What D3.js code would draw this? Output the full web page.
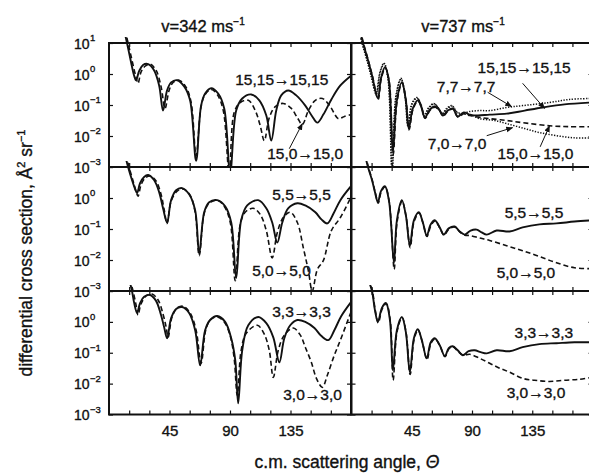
<!DOCTYPE html>
<html>
<head>
<meta charset="utf-8">
<script src="https://cdn.jsdelivr.net/npm/d3@7"></script>
<style>
body { margin: 0; background: #fff; }
svg { display: block; font-family: "Liberation Sans", Arial, Helvetica, sans-serif; }
svg text { stroke: #111; stroke-width: 0.35px; }
</style>
</head>
<body>
<svg id="chart" width="589" height="475"></svg>
<script>
// values: [theta (deg), log10 of dsigma/dOmega (A^2 sr^-1)]
var velocities = ["v=342 ms", "v=737 ms"];
var thetaTicks = [45, 90, 135];
var minorTicks = [15, 30, 45, 60, 75, 90, 105, 120, 135, 150, 165];
var decadeTicks = [1, 0, -1, -2, -3];

// 342 m/s, top row
var slow15_15 = [[11.2,1.42],[13.4,1.0],[16.4,0.38],[18.6,-0.04],[20.1,-0.2],[22.4,0.09],[25.3,0.29],[29.1,0.32],[33.5,0.12],[37.3,-0.37],[40.2,-1.18],[43.2,-0.53],[46.2,-0.27],[50.7,-0.2],[55.9,-0.4],[60.3,-0.85],[64.8,-2.8],[68.5,-1.02],[71.5,-0.63],[76,-0.46],[81.2,-0.63],[85.7,-1.11],[90.1,-3.19],[94.6,-1.18],[99.1,-0.79],[105.8,-0.66],[111.8,-0.85],[117,-1.34],[120.7,-2.15],[124.4,-1.18],[128.1,-0.69],[133.4,-0.53],[139.3,-0.69],[146,-1.02],[151.2,-1.37],[155,-1.57],[159.4,-1.31],[165.4,-0.82],[172.1,-0.37],[179.6,-0.07]];
var slow15_0 = [[11.9,1.42],[14.2,1.0],[17.9,0.29],[20.1,-0.1],[21.6,-0.3],[23.8,0.06],[26.8,0.25],[30.5,0.32],[35,0.12],[38.7,-0.4],[41.7,-1.11],[44.7,-0.53],[47.7,-0.27],[52.2,-0.2],[57.4,-0.43],[61.1,-0.92],[64.8,-2.64],[68.5,-1.05],[71.5,-0.66],[76,-0.5],[80.5,-0.66],[85,-1.18],[89.4,-3.19],[93.1,-1.24],[97.6,-0.92],[103.6,-0.85],[108.8,-1.18],[112.5,-1.67],[115.5,-2.15],[119.2,-1.41],[123.7,-1.05],[129.6,-0.95],[135.6,-1.11],[140.1,-1.41],[143.8,-1.63],[148.3,-1.18],[153.5,-0.85],[158.7,-0.79],[164.6,-1.05],[170.6,-1.44],[175.1,-1.37],[180,-1.31]];
// 342 m/s, middle row
var slow5_5 = [[11.9,1.39],[14.2,1.0],[17.1,0.58],[19.4,0.29],[20.9,0.16],[23.1,0.48],[26.1,0.68],[29.1,0.74],[33.5,0.58],[37.3,0.19],[40.2,-0.33],[43.2,-0.79],[46.2,-0.07],[49.9,0.25],[54.4,0.32],[59.6,0.12],[64.1,-0.4],[67.1,-1.8],[70.8,-0.46],[74.5,-0.14],[80.5,-0.07],[86.4,-0.27],[90.9,-0.79],[94.6,-2.58],[98.3,-0.72],[102.8,-0.24],[111,-0.07],[117,-0.33],[121.4,-0.79],[125.2,-1.44],[128.9,-0.79],[133.4,-0.33],[140.1,-0.17],[146,-0.24],[153.5,-0.46],[158,-0.69],[162.4,-0.82],[167,-0.5],[172.1,-0.07],[180,0.38]];
var slow5_0 = [[12.7,1.39],[14.9,1.0],[17.9,0.55],[20.1,0.22],[21.6,0.06],[23.8,0.42],[26.8,0.64],[30.5,0.71],[35,0.55],[38.7,0.12],[41,-0.37],[43.2,-0.82],[46.2,-0.1],[50.7,0.22],[55.1,0.29],[60.3,0.09],[64.1,-0.46],[67.1,-1.86],[70.8,-0.5],[74.5,-0.17],[80.5,-0.07],[85.7,-0.27],[90.2,-0.79],[93.9,-2.67],[97.6,-0.85],[101.3,-0.46],[107.3,-0.33],[112.5,-0.53],[117,-1.05],[121.4,-1.93],[125.2,-1.11],[129.6,-0.63],[134.8,-0.46],[140.1,-0.79],[144.5,-1.6],[148.3,-2.35],[151.2,-3.0],[155,-2.3],[159.4,-2.02],[165.4,-1.05],[172.1,-0.63],[180,0.03]];
// 342 m/s, bottom row
var slow3_3 = [[14.9,1.39],[17.1,1.0],[18.6,0.64],[20.9,0.29],[23.1,0.61],[26.1,0.81],[30.5,0.87],[35,0.68],[38.7,0.22],[41,-0.17],[43.2,-0.53],[46.2,0.12],[49.9,0.42],[54.4,0.48],[59.6,0.29],[64.1,-0.27],[67.8,-1.41],[71.5,-0.27],[75.2,0.06],[80.5,0.19],[86.4,0.0],[90.9,-0.53],[93.9,-1.24],[96.1,-2.64],[99.1,-0.92],[103.6,-0.11],[111,0.16],[117,-0.04],[122.2,-0.5],[126.7,-1.31],[130.4,-0.53],[134.8,-0.11],[140.1,0.06],[146,0.0],[152.8,-0.2],[158,-0.46],[163.1,-0.59],[167.6,-0.27],[172.8,0.19],[180,0.64]];
var slow3_0 = [[15.6,1.39],[17.9,1.0],[20.1,0.55],[21.6,0.22],[23.8,0.58],[27.6,0.84],[32,0.9],[36.5,0.71],[40.2,0.25],[42.5,-0.17],[44,-0.5],[46.9,0.16],[50.7,0.45],[55.1,0.51],[60.3,0.29],[64.8,-0.27],[68.5,-1.34],[72.3,-0.2],[76,0.09],[80.5,0.16],[85.7,0.0],[90.2,-0.46],[93.1,-1.18],[95.4,-2.38],[98.3,-0.92],[102.1,-0.37],[110.3,-0.11],[115.5,-0.4],[119.2,-0.92],[122.2,-1.8],[125.9,-0.92],[130.4,-0.43],[137.1,-0.2],[142.3,-0.43],[146,-0.82],[150.5,-1.31],[154.3,-1.83],[158.7,-2.12],[162.4,-1.73],[167.6,-1.08],[172.1,-0.59],[180,0.32]];

// 737 m/s, top row
var fast15_15 = [[6.3,1.42],[8.6,1.0],[12.3,0.45],[15.3,-0.04],[19.7,-0.79],[22,-0.14],[25,0.22],[27.9,-0.2],[30.9,-2.48],[33.9,-0.85],[37.6,-0.27],[40.6,-0.85],[42.8,-1.76],[45.8,-1.11],[49.5,-0.85],[52.5,-1.11],[54.8,-1.41],[58.5,-1.15],[62.2,-1.05],[65.9,-1.18],[68.2,-1.34],[71.9,-1.18],[75.6,-1.11],[79.3,-1.37],[83.8,-1.24],[88.3,-1.31],[94.2,-1.34],[103.2,-1.31],[115.9,-1.28],[129.3,-1.18],[142.7,-1.08],[159.1,-0.98],[179.2,-0.92]];
var fast15_0 = [[6.6,1.42],[8.9,1.0],[12.6,0.43],[15.6,-0.06],[19.9,-0.82],[22.2,-0.16],[25.2,0.2],[28.1,-0.22],[31.1,-2.6],[34.1,-0.87],[37.8,-0.29],[40.8,-0.87],[43,-1.8],[46,-1.13],[49.7,-0.87],[52.7,-1.13],[55,-1.43],[58.7,-1.17],[62.4,-1.07],[66.1,-1.2],[68.4,-1.36],[72.1,-1.2],[75.8,-1.13],[79.5,-1.39],[83.8,-1.28],[88.3,-1.34],[95.7,-1.4],[103.2,-1.44],[115.9,-1.5],[127.8,-1.57],[147.9,-1.67],[162.8,-1.7],[179.2,-1.7]];
var fast7_7 = [[5.6,1.42],[7.8,1.0],[11.5,0.45],[14.5,-0.04],[18.3,-0.63],[21.2,0.06],[24.2,0.35],[27.2,-0.14],[30.2,-3.03],[33.2,-0.69],[36.9,-0.14],[39.9,-0.69],[42.1,-1.67],[45.1,-0.95],[48.8,-0.76],[51.8,-0.98],[54,-1.34],[57.7,-1.08],[61.5,-0.95],[65.2,-1.11],[67.4,-1.28],[71.1,-1.11],[74.9,-1.02],[78.6,-1.21],[82.3,-1.28],[88.3,-1.21],[95.7,-1.18],[103.2,-1.18],[115.9,-1.08],[127.8,-1.02],[147.9,-0.92],[162.8,-0.82],[179.2,-0.79]];
var fast7_0 = [[5.9,1.42],[8.1,1.0],[11.8,0.43],[14.8,-0.06],[18.6,-0.66],[21.4,0.04],[24.4,0.33],[27.4,-0.16],[30.4,-3.1],[33.4,-0.71],[37.1,-0.16],[40.1,-0.71],[42.3,-1.7],[45.3,-0.97],[49,-0.78],[52,-1.0],[54.2,-1.36],[57.9,-1.1],[61.7,-0.97],[65.4,-1.13],[67.6,-1.3],[71.3,-1.13],[75.1,-1.04],[78.8,-1.25],[82.5,-1.3],[88.3,-1.3],[95.7,-1.44],[107,-1.5],[115.9,-1.6],[129.3,-1.76],[140.4,-1.89],[153.1,-1.99],[166.5,-2.06],[179.2,-2.06]];
// 737 m/s, middle row
var fast5_5 = [[10.1,1.39],[12.3,1.0],[15.3,0.58],[17.5,0.19],[19.7,-0.14],[22,0.22],[25,0.38],[27.9,-0.07],[29.4,-0.72],[31.7,-2.09],[33.9,-0.72],[37.6,-0.07],[40.6,-0.56],[43.6,-1.54],[46.6,-0.72],[50.3,-0.46],[53.3,-0.79],[56.2,-1.21],[59.2,-0.85],[62.2,-0.72],[65.9,-0.95],[68.9,-1.18],[72.6,-0.98],[77.1,-0.92],[80.8,-1.08],[84.6,-1.18],[89,-1.05],[93.5,-1.02],[97.2,-1.11],[101,-1.18],[108.4,-1.05],[118.1,-1.08],[127.8,-0.95],[140.4,-0.85],[153.1,-0.82],[166.5,-0.76],[179.2,-0.72]];
var fast5_0 = [[10.4,1.39],[12.6,1.0],[15.6,0.56],[17.8,0.17],[20,-0.17],[22.2,0.2],[25.2,0.36],[28.1,-0.1],[29.6,-0.78],[31.9,-2.3],[34.1,-0.76],[37.8,-0.1],[40.8,-0.6],[43.8,-1.6],[46.8,-0.75],[50.5,-0.48],[53.5,-0.82],[56.4,-1.24],[59.4,-0.88],[62.4,-0.74],[66.1,-0.98],[69.1,-1.2],[72.8,-1.0],[77.3,-0.94],[81,-1.1],[84.8,-1.2],[88.3,-1.21],[95.7,-1.29],[103.2,-1.37],[115.9,-1.54],[127.8,-1.7],[140.4,-1.89],[153.1,-2.09],[166.5,-2.25],[179.2,-2.28]];
// 737 m/s, bottom row
var fast3_3 = [[12.3,1.39],[15.3,1.0],[17.5,0.38],[19.7,0.0],[22.7,0.45],[25.7,0.61],[28.7,0.06],[30.9,-1.57],[33.9,-0.27],[37.6,0.16],[40.6,-0.33],[43.6,-1.63],[46.6,-0.53],[49.5,-0.24],[52.5,-0.59],[56.2,-1.18],[59.2,-0.66],[62.2,-0.53],[65.9,-0.76],[69.7,-1.11],[72.6,-0.85],[75.6,-0.79],[79.3,-0.92],[83.1,-1.08],[87.5,-0.95],[92,-0.92],[96.5,-0.98],[101,-1.02],[108.4,-0.92],[118.1,-0.95],[127.8,-0.82],[140.4,-0.72],[153.1,-0.69],[166.5,-0.66],[179.2,-0.66]];
var fast3_0 = [[12.6,1.39],[15.6,1.0],[17.8,0.36],[20,-0.03],[23,0.43],[26,0.59],[29,0.02],[31.1,-1.89],[34.1,-0.3],[37.8,0.14],[40.8,-0.36],[43.8,-1.7],[46.8,-0.56],[49.7,-0.26],[52.7,-0.62],[56.4,-1.22],[59.4,-0.69],[62.4,-0.55],[66.1,-0.78],[69.9,-1.13],[72.8,-0.87],[75.8,-0.81],[79.5,-0.95],[83.3,-1.08],[88.3,-1.05],[95.7,-1.18],[103.2,-1.34],[110.6,-1.5],[118.1,-1.63],[127.8,-1.83],[136.7,-1.89],[147.9,-1.93],[159.1,-1.89],[170.3,-1.86],[179.2,-1.8]];

// curve labels: [row, col, text, theta, log10 sigma of baseline]
var labels = [
  [0, 0, "15,15\u219215,15", 93.9, -0.37], [0, 0, "15,0\u219215,0", 117.7, -2.74],
  [0, 1, "15,15\u219215,15", 94.2, 0.03], [0, 1, "7,7\u21927,7", 63.7, -0.59],
  [0, 1, "7,0\u21927,0", 57.0, -2.41], [0, 1, "15,0\u219215,0", 109.1, -2.74],
  [1, 0, "5,5\u21925,5", 121.4, -0.07], [1, 0, "5,0\u21925,0", 106.5, -2.51],
  [1, 1, "5,5\u21925,5", 114.4, -0.66], [1, 1, "5,0\u21925,0", 108.4, -2.58],
  [2, 0, "3,3\u21923,3", 121.4, 0.16], [2, 0, "3,0\u21923,0", 129.6, -2.54],
  [2, 1, "3,3\u21923,3", 121.8, -0.53], [2, 1, "3,0\u21923,0", 115.9, -2.45]
];
// pointer lines: [row, col, theta1, log1, theta2, log2] (arrow head at the second end)
var pointers = [
  [0, 0, 134.1, -2.41, 143.8, -1.6],
  [0, 1, 127.8, -0.3, 144.2, -1.11],
  [0, 1, 101.7, -0.59, 119.6, -1.05],
  [0, 1, 101.0, -1.99, 120.3, -1.73],
  [0, 1, 140.9, -2.35, 147.9, -1.67]
];

var panels = [
  { row: 0, col: 0, series: [[slow15_0, "dash"], [slow15_15, "solid"]] },
  { row: 0, col: 1, series: [[fast7_7, "dot"], [fast7_0, "dot"], [fast15_0, "dash"], [fast15_15, "solid"]] },
  { row: 1, col: 0, series: [[slow5_0, "dash"], [slow5_5, "solid"]] },
  { row: 1, col: 1, series: [[fast5_0, "dash"], [fast5_5, "solid"]] },
  { row: 2, col: 0, series: [[slow3_0, "dash"], [slow3_3, "solid"]] },
  { row: 2, col: 1, series: [[fast3_0, "dash"], [fast3_3, "solid"]] }
];

var colX = [[109, 351], [351.5, 592.5]];
var rowY = [[43, 167], [167, 291], [291, 414.5]];

var svg = d3.select("#chart");
var defs = svg.append("defs");
defs.append("marker")
    .attr("id", "head")
    .attr("viewBox", "0 0 10 10")
    .attr("refX", 9).attr("refY", 5)
    .attr("markerWidth", 7).attr("markerHeight", 7)
    .attr("markerUnits", "userSpaceOnUse")
    .attr("orient", "auto")
  .append("path")
    .attr("d", "M0,1 L10,5 L0,9 Z")
    .attr("fill", "#111");

var styles = {
    solid: { width: 1.9, dash: null },
    dash: { width: 1.6, dash: "5,3" },
    dot: { width: 1.5, dash: "1.3,1.5" }
};

panels.forEach(function(p, i) {
    var x = d3.scaleLinear().domain([0, 180]).range(colX[p.col]);
    var y = d3.scaleLog().domain([1e-3, 10]).range([rowY[p.row][1], rowY[p.row][0]]);
    var g = svg.append("g");

    defs.append("clipPath").attr("id", "clip" + i)
      .append("rect")
        .attr("x", colX[p.col][0]).attr("y", rowY[p.row][0] - 6)
        .attr("width", colX[p.col][1] - colX[p.col][0])
        .attr("height", rowY[p.row][1] - rowY[p.row][0] + 6);

    var line = d3.line()
        .x(function(d) { return x(d[0]); })
        .y(function(d) { return y(Math.pow(10, d[1])); })
        .curve(d3.curveCatmullRom.alpha(0.5));

    g.append("g").attr("clip-path", "url(#clip" + i + ")")
      .selectAll("path")
      .data(p.series)
      .enter().append("path")
        .attr("d", function(d) { return line(d[0]); })
        .attr("fill", "none")
        .attr("stroke", "#111")
        .attr("stroke-width", function(d) { return styles[d[1]].width; })
        .attr("stroke-dasharray", function(d) { return styles[d[1]].dash; });

    // ticks on all four sides, pointing inward
    var ax = function(gen, tx, ty, vals) {
        g.append("g")
            .attr("transform", "translate(" + tx + "," + ty + ")")
            .call(gen.tickValues(vals).tickSize(4).tickFormat(""))
            .call(function(s) {
                s.select(".domain").remove();
                s.selectAll("line").attr("stroke", "#111").attr("stroke-width", 1.2);
            });
    };
    var decVals = decadeTicks.map(function(e) { return Math.pow(10, e); });
    ax(d3.axisTop(x), 0, rowY[p.row][1], minorTicks);
    ax(d3.axisBottom(x), 0, rowY[p.row][0], minorTicks);
    ax(d3.axisRight(y), colX[p.col][0], 0, decVals);
    ax(d3.axisLeft(y), colX[p.col][1], 0, decVals);

    g.append("rect")
        .attr("x", colX[p.col][0]).attr("y", rowY[p.row][0])
        .attr("width", colX[p.col][1] - colX[p.col][0])
        .attr("height", rowY[p.row][1] - rowY[p.row][0])
        .attr("fill", "none").attr("stroke", "#111").attr("stroke-width", 2);

    // decade labels down the left side
    if (p.col === 0) {
        var shown = p.row === 0 ? decadeTicks : decadeTicks.slice(1);
        var lab = g.append("g").selectAll("g").data(shown).enter().append("g")
            .attr("transform", function(e) { return "translate(89.5," + y(Math.pow(10, e)) + ")"; });
        lab.append("text").attr("y", 5.5).attr("text-anchor", "end")
            .attr("font-size", 14).attr("fill", "#111").text("10");
        lab.append("text").attr("x", 0.5).attr("y", -2)
            .attr("font-size", 9.5).attr("fill", "#111")
            .text(function(e) { return e < 0 ? "\u2212" + (-e) : e; });
    }

    // theta labels under the bottom row
    if (p.row === 2) {
        g.append("g")
            .attr("transform", "translate(0," + rowY[2][1] + ")")
            .call(d3.axisBottom(x).tickValues(thetaTicks).tickSize(0).tickPadding(11))
            .call(function(s) {
                s.select(".domain").remove();
                s.selectAll("text").attr("font-size", 15).attr("fill", "#111")
                    .attr("font-family", "Liberation Sans, Arial, sans-serif");
            });
    }

    if (p.row === 0) {
        var t = svg.append("text")
            .attr("x", (colX[p.col][0] + colX[p.col][1]) / 2 - (p.col === 0 ? 27 : 9))
            .attr("y", 32).attr("text-anchor", "middle")
            .attr("font-size", 16.5).attr("fill", "#111");
        t.append("tspan").text(velocities[p.col]);
        t.append("tspan").attr("dy", -7).attr("font-size", 10).text("\u22121");
    }

    g.selectAll(".lab")
        .data(labels.filter(function(l) { return l[0] === p.row && l[1] === p.col; }))
        .enter().append("text")
        .attr("x", function(l) { return x(l[3]); })
        .attr("y", function(l) { return y(Math.pow(10, l[4])); })
        .attr("font-size", 15.5).attr("fill", "#111")
        .text(function(l) { return l[2]; });

    g.selectAll(".ptr")
        .data(pointers.filter(function(l) { return l[0] === p.row && l[1] === p.col; }))
        .enter().append("line")
        .attr("x1", function(l) { return x(l[2]); })
        .attr("y1", function(l) { return y(Math.pow(10, l[3])); })
        .attr("x2", function(l) { return x(l[4]); })
        .attr("y2", function(l) { return y(Math.pow(10, l[5])); })
        .attr("stroke", "#111").attr("stroke-width", 1)
        .attr("marker-end", "url(#head)");
});

// axis titles
var yt = svg.append("text")
    .attr("transform", "translate(32,253) rotate(-90)")
    .attr("text-anchor", "middle")
    .attr("font-size", 17.5).attr("fill", "#111");
yt.append("tspan").text("differential cross section, \u00c5");
yt.append("tspan").attr("dy", -7).attr("font-size", 11).text("2");
yt.append("tspan").attr("dy", 7).text(" sr");
yt.append("tspan").attr("dy", -7).attr("font-size", 11).text("\u22121");

var xt = svg.append("text")
    .attr("x", 347).attr("y", 468)
    .attr("text-anchor", "middle")
    .attr("font-size", 17.5).attr("fill", "#111");
xt.append("tspan").text("c.m. scattering angle,  ");
xt.append("tspan").attr("font-style", "italic").text("\u0398");
</script>
</body>
</html>
